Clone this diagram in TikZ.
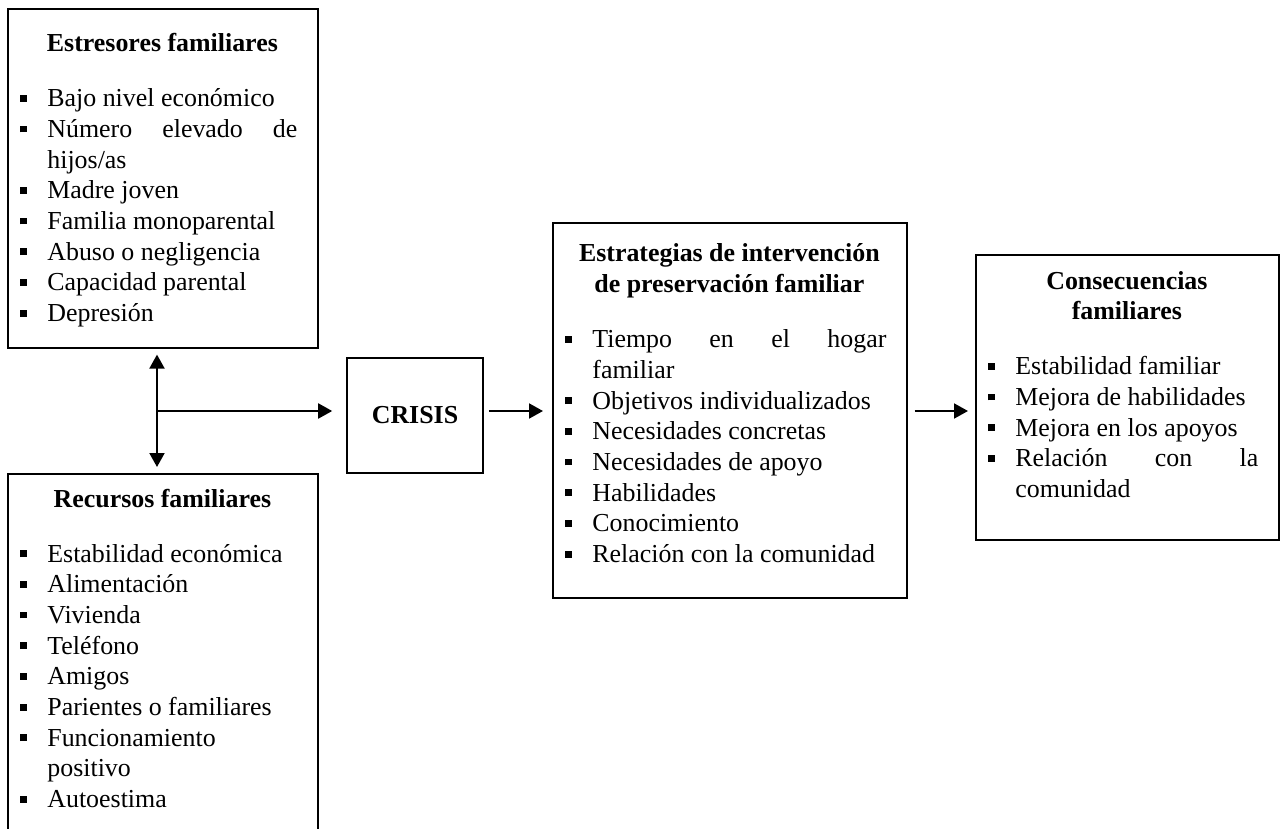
\documentclass[tikz,border=0pt]{standalone}
\usepackage{fontspec}
\setmainfont{Liberation Serif}
\usetikzlibrary{arrows.meta,positioning}

\tolerance=9999
\hyphenpenalty=10000
\exhyphenpenalty=10000

\newlength\sangria
\setlength\sangria{20pt}
% titulo centrado y linea en blanco
\newcommand\titulo[1]{{\leftskip=0pt plus 1fil\rightskip=0pt plus 1fil\parfillskip=0pt\bfseries #1\par}\vspace{12.15pt}}
% elemento de lista con cuadradito
\newcommand\vineta{\par\noindent\leftskip=0pt\rightskip=10pt\relax\parfillskip=0pt plus 1fil\relax
  \hangindent=\sangria\hangafter=1%
  \makebox[\sangria][l]{\hspace{6.5pt}\rule[2.5pt]{3.4pt}{3.4pt}}\ignorespaces}

\begin{document}
\begin{tikzpicture}[x=0.5pt, y=-0.5pt,
  caja/.style={draw, line width=0.8pt, inner sep=0pt, anchor=north west},
  texto/.style={anchor=base west, inner sep=0pt, align=justify, font=\fontsize{12.95}{15.35}\selectfont},
  punta/.tip={Triangle[length=7pt,width=7.5pt]},
  flecha/.style={line width=1pt, -punta},
  dflecha/.style={line width=1pt, punta-punta}]
\useasboundingbox (0,0) rectangle (1281,829);
\clip (0,0) rectangle (1281,829);

% cajas
\node[caja, minimum width=155pt, minimum height=169.5pt] (estresores) at (7,8) {};
\node[caja, minimum width=155pt, minimum height=205pt] (recursos) at (7,473) {};
\node[caja, minimum width=68pt, minimum height=57.5pt, font=\fontsize{12.95}{15.35}\selectfont\bfseries,
  anchor=center] (crisis) at (415,415.5) {CRISIS};
\node[caja, minimum width=177pt, minimum height=187.5pt] (estrategias) at (552,222) {};
\node[caja, minimum width=151.5pt, minimum height=142.5pt] (consecuencias) at (975,254) {};

% textos
\node[texto, text width=155pt] (estresoresTxt) at (7,51.7) {%
  \titulo{Estresores familiares}
  \vineta Bajo nivel económico
  \vineta Número elevado de\linebreak hijos/as
  \vineta Madre joven
  \vineta Familia monoparental
  \vineta Abuso o negligencia
  \vineta Capacidad parental
  \vineta Depresión\par};
\node[texto, text width=155pt] (recursosTxt) at (7,507) {%
  \titulo{Recursos familiares}
  \vineta Estabilidad económica
  \vineta Alimentación
  \vineta Vivienda
  \vineta Teléfono
  \vineta Amigos
  \vineta Parientes o familiares
  \vineta Funcionamiento\linebreak positivo
  \vineta Autoestima\par};
\node[texto, text width=177pt] (estrategiasTxt) at (552,262) {%
  \titulo{Estrategias de intervención\par de preservación familiar}
  \vineta Tiempo en el hogar\linebreak familiar
  \vineta Objetivos individualizados
  \vineta Necesidades concretas
  \vineta Necesidades de apoyo
  \vineta Habilidades
  \vineta Conocimiento
  \vineta Relación con la comunidad\par};
\node[texto, text width=151.5pt] (consecuenciasTxt) at (975,289) {%
  \titulo{Consecuencias\par familiares}
  \vineta Estabilidad familiar
  \vineta Mejora de habilidades
  \vineta Mejora en los apoyos
  \vineta Relación con la\linebreak comunidad\par};

% flechas
\coordinate (union) at (157,411);
\draw[dflecha, shorten <=3pt, shorten >=3pt] (estresores.south -| union) -- (recursos.north -| union);
\draw[flecha, shorten >=7pt] (union) -- (union -| crisis.west);
\draw[flecha, shorten <=2.5pt, shorten >=4.5pt] (union -| crisis.east) -- (union -| estrategias.west);
\draw[flecha, shorten <=3.5pt, shorten >=3.5pt] (union -| estrategias.east) -- (union -| consecuencias.west);
\end{tikzpicture}
\end{document}
